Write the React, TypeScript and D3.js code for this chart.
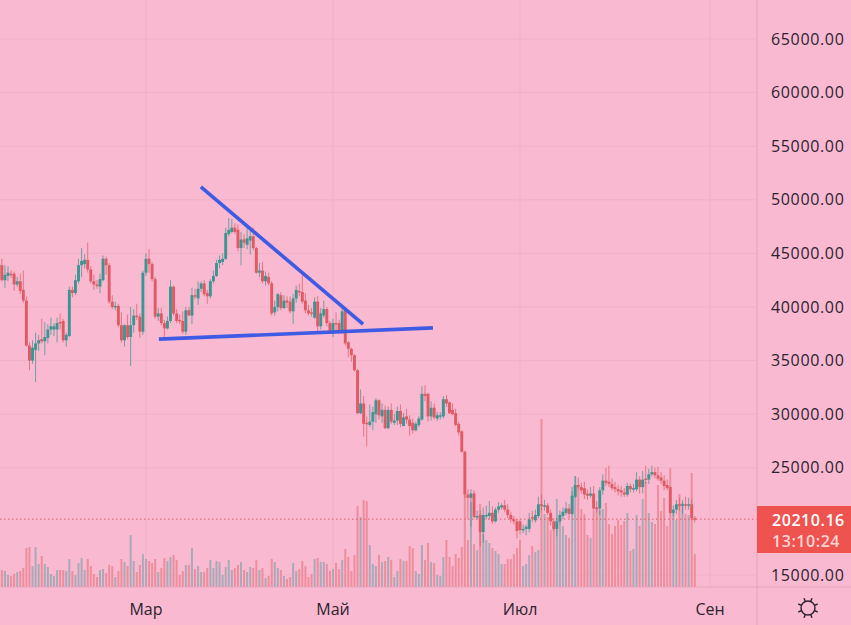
import { scaleLinear } from "d3";

const width = 851;
const height = 625;
const axisX = 757;
const axisY = 587;

// prices in thousands, one entry per daily candle
const opens = [
  42.6, 43.9, 42.5, 42.9, 43.1, 43.1, 42.1, 42.4, 41.6, 40.6,
  36.4, 35.0, 36.0, 36.6, 37, 36.8, 37.1, 37.9, 37.9, 37.9,
  38.6, 38.7, 36.9, 37.3, 41.6, 41.3, 42.4, 43.9, 44.0, 44.4,
  43.5, 42.4, 42.1, 41.9, 42.5, 44.5, 43.9, 40.5, 40, 40.1,
  38.3, 36.9, 38.3, 37.2, 38.3, 39.2, 39.1, 37.7, 43.2, 44.5,
  44, 42.6, 39.1, 39.4, 38.5, 38.0, 38.7, 41.9, 39.4, 38.8,
  38.7, 37.7, 39.7, 39.2, 41.1, 40.8, 41.7, 42.2, 41.3, 41,
  42.4, 42.9, 44.1, 44.2, 44.5, 46.8, 47.0, 47.4, 47.2, 45.5,
  46.3, 45.8, 46.2, 46.6, 45.5, 43.2, 43.4, 42.4, 42.8, 42.2,
  39.5, 40, 41.1, 39.9, 40.6, 40.5, 39.6, 40.8, 41.5, 41.4,
  40.6, 39.7, 39.5, 39, 40.5, 38.2, 39.2, 39.8, 38.5, 37.5,
  38.5, 38.5, 37.6, 39.7, 36.7, 36.1, 35.5, 34.1, 30.1, 31,
  29.2, 29, 29.3, 30, 31.3, 29.8, 30.4, 28.7, 30.4, 29.2,
  29.4, 30.3, 28.9, 29.8, 29.5, 29.2, 28.5, 29, 29.5, 31.9,
  31.9, 29.8, 30.6, 29.6, 29.8, 29.8, 31.4, 31.1, 30.4, 30.1,
  29.1, 28.4, 26.5, 22.5, 22.2, 22.6, 20.4, 20.6, 19, 20.5,
  20.5, 20.8, 20, 21.1, 21.3, 21.5, 21.1, 20.6, 20.2, 20,
  20, 19.2, 19.3, 19.3, 20.4, 20.1, 20.5, 21.6, 21.5, 21.5,
  20.8, 20, 19.3, 20, 20.5, 20.8, 21.2, 20.7, 22.3, 23.4,
  23.2, 23.1, 22.6, 22.4, 22.6, 21.3, 21.2, 22.9, 23.8, 23.7,
  23.5, 23.2, 23, 22.9, 22.7, 22.5, 23.3, 23, 23, 23.9,
  23.2, 24, 23.9, 24.4, 24.6, 24.3, 24.1, 23.8, 23.4, 23.2,
  20.8, 21.1, 21.6, 21.5, 21.6, 21.5, 21.6, 20.3,
];
const closes = [
  44, 42.5, 43.0, 43.2, 43.0, 42.1, 42.4, 41.5, 40.6, 36.4,
  35.0, 36.2, 36.6, 36.9, 36.8, 37.2, 37.9, 38.2, 38.2, 38.5,
  38.5, 36.9, 37.4, 41.6, 41.3, 42.5, 43.9, 44.3, 44.4, 43.5,
  42.4, 42.1, 42.0, 42.6, 44.5, 43.9, 40.5, 40.0, 40.1, 38.3,
  36.9, 38.3, 37.2, 38.3, 39.2, 39.1, 37.7, 43.2, 44.5, 44.0,
  42.6, 39.1, 39.4, 38.5, 38.0, 38.7, 41.9, 39.4, 38.7, 38.7,
  37.7, 39.7, 39.2, 41.1, 41.0, 41.7, 42.2, 41.2, 41, 42.4,
  42.9, 44.1, 44.4, 44.5, 46.9, 47.2, 47.4, 47.0, 45.5, 46.3,
  46.0, 46.4, 46.6, 45.5, 43.2, 43.4, 42.4, 42.9, 42.2, 39.4,
  40, 41.2, 39.9, 40.6, 40.4, 39.6, 40.8, 41.6, 41.4, 40.5,
  39.7, 39.4, 39.4, 40.5, 38.2, 39.4, 39.8, 38.5, 37.6, 38.5,
  38.4, 37.6, 39.6, 36.6, 36.1, 35.5, 34.1, 30.1, 31, 29.1,
  29.1, 29.3, 30.2, 31.3, 29.9, 30.4, 28.7, 30.4, 29.3, 29.4,
  30.3, 29.1, 29.7, 29.5, 28.9, 28.5, 29.1, 29.6, 31.9, 31.7,
  29.8, 30.6, 29.7, 29.9, 29.9, 31.4, 31, 30.1, 30, 29,
  28.3, 26.5, 22.5, 22.2, 22.6, 20.4, 20.5, 19, 20.6, 20.6,
  20.8, 20, 21.1, 21.4, 21.5, 21.1, 20.6, 20.2, 20, 19.1,
  19.2, 19.3, 19.5, 20.2, 20.3, 20.6, 21.6, 21.5, 21.5, 20.8,
  20, 19.3, 20, 20.6, 20.9, 21.2, 20.7, 22.4, 23.4, 23.2,
  22.9, 22.5, 22.4, 22.6, 21.2, 21.2, 22.9, 23.8, 23.6, 23.5,
  23.1, 23, 22.8, 22.7, 22.5, 23.3, 23, 23.1, 23.9, 23.2,
  23.9, 23.9, 24.4, 24.6, 24.3, 24, 23.8, 23.3, 23.1, 20.8,
  21.1, 21.6, 21.5, 21.6, 21.5, 21.6, 20.3, 20.21,
];
const highs = [
  44.5, 44.5, 43.9, 43.8, 43.4, 43.3, 42.8, 43.1, 43.4, 41.0,
  36.7, 36.9, 37.6, 37.4, 38.9, 38.6, 38.4, 39, 38.5, 39,
  39.4, 38.9, 37.6, 41.9, 41.9, 43, 44.5, 45.5, 44.9, 46,
  43.8, 43, 42.5, 43.1, 44.8, 44.7, 44.1, 41.1, 40.5, 40.3,
  39.5, 38.4, 39.3, 40, 39.8, 40.3, 39.4, 43.4, 45, 45.4,
  44.2, 42.8, 39.9, 39.9, 38.8, 39.1, 42.5, 42, 39.8, 39.3,
  39.6, 40, 40, 41.8, 41.7, 42.4, 42.4, 42.5, 41.6, 42.6,
  43.4, 44.4, 44.8, 45, 47.4, 48.3, 48.2, 47.8, 47.7, 47,
  46.8, 47.5, 47.2, 47.4, 45.6, 44.1, 44.2, 43.3, 43.2, 42.4,
  40.6, 41.3, 41.4, 41.1, 41, 41, 41.2, 42, 42.2, 43,
  41.3, 40.2, 39.9, 40.9, 41, 39.9, 40.6, 40, 38.7, 38.9,
  39.5, 38.8, 40.1, 40, 36.8, 36.2, 35.6, 34.2, 32.3, 31.7,
  29.8, 30.9, 30.7, 31.5, 31.4, 31, 30.8, 30.7, 31, 30,
  30.7, 30.9, 30.1, 30.5, 29.9, 29.6, 29.3, 29.8, 32.6, 32.7,
  32, 31.2, 31, 30.2, 30.2, 31.7, 31.8, 31.2, 31, 30.5,
  29.3, 28.5, 26.6, 23, 23, 22.9, 21, 21, 21.3, 21.5,
  21.9, 21.4, 21.3, 21.8, 21.7, 22, 21.6, 20.9, 20.5, 20.2,
  20.2, 19.7, 19.7, 20.8, 21, 21.1, 22.3, 22.5, 22, 21.7,
  21.1, 20.3, 20.3, 21, 21.3, 21.8, 21.6, 22.8, 24.2, 24.1,
  23.6, 23.7, 23, 23.2, 23.3, 21.9, 23.2, 24.4, 25, 25.2,
  24, 23.7, 23.4, 23.3, 23.1, 23.6, 23.5, 23.5, 24.6, 24.2,
  24.7, 25.2, 24.9, 25.2, 25, 25.1, 24.6, 24.3, 23.9, 23.3,
  21.5, 22, 22.2, 22, 22.3, 22.2, 22.1, 20.5,
];
const lows = [
  42.5, 42.4, 41.8, 42.4, 42.7, 41.5, 41.9, 41.2, 40.4, 36.3,
  34.1, 34.7, 33, 35.9, 36.6, 35.5, 36.6, 37.4, 37.3, 36.7,
  37.9, 36.7, 36.3, 37.2, 40.9, 41.1, 42.2, 42.8, 43.6, 43.2,
  42.2, 41.6, 41.7, 41.3, 42.4, 43, 40.3, 39.8, 39.7, 38.1,
  36.7, 36.3, 37, 34.5, 37.6, 38.8, 37.1, 37.4, 42.9, 43.2,
  42.4, 38.9, 38.7, 38.3, 37.2, 37.9, 38.5, 39.2, 38.5, 38.4,
  37.5, 37.4, 39.2, 38.4, 40.7, 40.2, 41.4, 41, 40.3, 40.8,
  42.2, 42.8, 43.6, 43.9, 44.4, 46.6, 46.9, 46.8, 45.2, 43.9,
  45.5, 45.4, 44.9, 45.3, 43.1, 42.8, 42.2, 42, 42, 39.2,
  39.2, 39.6, 39.7, 39.8, 39.9, 39.4, 38.4, 40.4, 41, 40.3,
  39.4, 39.2, 39.1, 38.9, 37.7, 37.9, 39, 38.2, 37.5, 37.2,
  37.8, 37.5, 37.5, 36.4, 35.3, 34.9, 34, 30, 30, 27.9,
  27, 28.8, 28.5, 29.2, 29.5, 29.2, 28.6, 28.6, 29.1, 29,
  29, 28.8, 28.9, 29.1, 28, 28.2, 28.4, 28.8, 29.4, 31.2,
  29.3, 29.4, 29.5, 29.4, 29.5, 29.6, 30.7, 30, 29.9, 28.9,
  28, 26.4, 22.2, 20.2, 19.5, 20.3, 20.2, 17.7, 18, 20.2,
  20.2, 19.8, 19.9, 20.8, 21.1, 20.9, 20.3, 19.9, 19.7, 18.4,
  18.8, 18.9, 18.7, 19, 19.9, 19.9, 20.3, 21, 21, 20.6,
  19.6, 19.1, 18.6, 19.8, 20.2, 20.6, 20.3, 20.6, 22.2, 23,
  22.6, 22.1, 22, 22.2, 21, 20.8, 20.6, 22.5, 23.3, 23.2,
  22.9, 22.7, 22.4, 22.3, 22.3, 22.3, 22.7, 22.7, 22.8, 22.6,
  22.6, 23.5, 23.5, 24.2, 24, 23.8, 23.5, 22.9, 22.9, 20.7,
  20.5, 20.7, 21, 20.7, 21.1, 21.1, 20.1, 19.9,
];
const volumes = [
  17, 17, 16, 12, 11, 13, 15, 16, 19, 39,
  40, 21, 40, 23, 31, 23, 20, 13, 11, 17,
  17, 17, 16, 28, 16, 12, 24, 29, 17, 28,
  21, 13, 10, 17, 18, 14, 22, 21, 10, 16,
  28, 25, 21, 52, 26, 15, 22, 33, 28, 26,
  24, 28, 15, 19, 29, 26, 30, 32, 27, 12,
  16, 22, 22, 39, 18, 21, 15, 15, 19, 27,
  19, 26, 25, 12, 20, 27, 17, 19, 22, 25,
  17, 15, 20, 19, 27, 17, 19, 9, 11, 28,
  25, 19, 17, 11, 8, 10, 24, 16, 18, 26,
  21, 10, 13, 28, 29, 25, 25, 23, 16, 18,
  24, 18, 27, 38, 30, 16, 32, 81, 70, 87,
  86, 42, 23, 21, 32, 25, 26, 30, 27, 10,
  16, 28, 26, 26, 41, 39, 16, 13, 42, 27,
  44, 25, 24, 12, 11, 30, 47, 30, 21, 33,
  29, 40, 92, 47, 85, 43, 37, 83, 53, 47,
  44, 39, 36, 33, 23, 23, 28, 28, 33, 39,
  47, 21, 23, 32, 41, 35, 37, 168, 73, 70,
  57, 60, 88, 67, 61, 52, 49, 100, 111, 100,
  78, 73, 52, 49, 76, 78, 77, 78, 84, 63,
  53, 61, 67, 62, 66, 74, 36, 38, 72, 61,
  88, 105, 74, 65, 63, 102, 76, 89, 61, 119,
  75, 67, 93, 84, 73, 72, 114, 33,
];

const priceTicks = [15, 25, 30, 35, 40, 45, 50, 55, 60, 65];
const monthLabels = ["Мар", "Май", "Июл", "Сен"];
const monthIndexes = [48, 109, 170, 232];

// hand drawn trend lines: [candle index, price]
const fallingLine = [[65.9, 51.2], [118.8, 38.4]];
const supportLine = [[52.2, 37.0], [141.6, 38.05]];

const lastPrice = 20.21016;

const bg = "#f9bad1";
const gridColor = "#efb1c7";
const borderColor = "#e6a3bb";
const upColor = "#3c9591";
const downColor = "#df5a62";
const upVolume = "#aaa9b8";
const downVolume = "#ee8d9c";
const textColor = "#2b2230";
const font = "'Open Sans', sans-serif";

const x = scaleLinear().domain([0, 100]).range([-1.2, 305.4]);
const y = scaleLinear().domain([15, 65]).range([575, 39]);
const volY = scaleLinear().domain([0, 170]).range([axisY, axisY - 170]);

const SunIcon = () => {
  const cx = 808;
  const cy = 608;
  const rays = Array.from(Array(8).keys()).map((n) => (n * Math.PI) / 4 + Math.PI / 8);
  return (
    <g stroke="#2b2230" strokeWidth={1.4} fill="none">
      <circle cx={cx} cy={cy} r={7} />
      {rays.map((a, i) => (
        <line
          key={i}
          x1={cx + 7 * Math.cos(a)}
          y1={cy + 7 * Math.sin(a)}
          x2={cx + 10.5 * Math.cos(a)}
          y2={cy + 10.5 * Math.sin(a)}
        />
      ))}
    </g>
  );
};

export default function App() {
  return (
    <svg
      width={width}
      height={height}
      style={{ position: "absolute", left: 0, top: 0, display: "block" }}
    >
      <rect width={width} height={height} fill={bg} />

      {priceTicks.map((p) => (
        <line key={p} x1={0} x2={axisX} y1={y(p)} y2={y(p)} stroke={gridColor} strokeWidth={1} />
      ))}
      {monthIndexes.map((m) => (
        <line key={m} x1={x(m)} x2={x(m)} y1={0} y2={axisY} stroke={gridColor} strokeWidth={1} />
      ))}

      {volumes.map((v, i) => (
        <rect
          key={i}
          x={x(i) - 1}
          width={2}
          y={volY(v)}
          height={axisY - volY(v)}
          fill={closes[i] >= opens[i] ? upVolume : downVolume}
        />
      ))}

      <line
        x1={0}
        x2={axisX}
        y1={y(lastPrice)}
        y2={y(lastPrice)}
        stroke={downColor}
        strokeWidth={1}
        strokeDasharray="1.5 2.5"
      />

      {opens.map((o, i) => {
        const c = closes[i];
        const color = c >= o ? upColor : downColor;
        const top = y(Math.max(o, c));
        const bottom = y(Math.min(o, c));
        return (
          <g key={i} fill={color} stroke={color}>
            <line x1={x(i)} x2={x(i)} y1={y(highs[i])} y2={y(lows[i])} strokeWidth={0.9} opacity={0.8} />
            <rect x={x(i) - 1.45} width={2.9} y={top} height={Math.max(bottom - top, 1.5)} stroke="none" />
          </g>
        );
      })}

      {[fallingLine, supportLine].map((l, i) => (
        <line
          key={i}
          x1={x(l[0][0])}
          y1={y(l[0][1])}
          x2={x(l[1][0])}
          y2={y(l[1][1])}
          stroke="#3f5be3"
          strokeWidth={3.6}
        />
      ))}

      <line x1={axisX} x2={axisX} y1={0} y2={height} stroke={borderColor} />
      <line x1={0} x2={width} y1={axisY} y2={axisY} stroke={borderColor} />

      {priceTicks.map((p) => (
        <text
          key={p}
          x={771}
          y={y(p)}
          dy="0.35em"
          fontFamily={font}
          fontSize={16}
          letterSpacing={0.65}
          fill={textColor}
        >
          {(p * 1000).toFixed(2)}
        </text>
      ))}
      {monthLabels.map((m, i) => (
        <text
          key={m}
          x={x(monthIndexes[i])}
          y={609}
          dy="0.35em"
          textAnchor="middle"
          fontFamily={font}
          fontSize={16}
          fill={textColor}
        >
          {m}
        </text>
      ))}

      <rect x={axisX} y={506} width={width - axisX} height={47} fill="#ef5350" />
      <text x={772} y={520} dy="0.35em" fontFamily={font} fontSize={16} fontWeight={600} letterSpacing={0.55} fill="#fff">
        {(lastPrice * 1000).toFixed(2)}
      </text>
      <text x={772} y={541} dy="0.35em" fontFamily={font} fontSize={16} fontWeight={600} letterSpacing={0.55} fill="#fbd5d5">
        13:10:24
      </text>

      <SunIcon />
    </svg>
  );
}
